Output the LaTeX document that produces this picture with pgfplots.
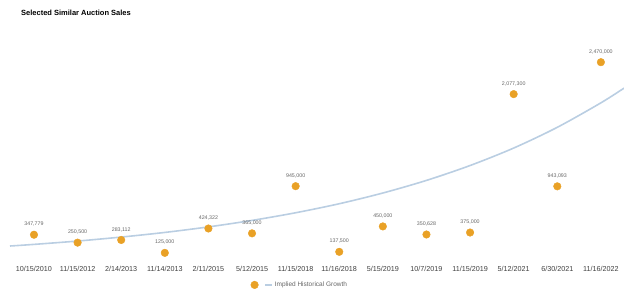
\documentclass[border=0pt]{standalone}
\usepackage{fontspec}
\setmainfont{Liberation Sans}
\usepackage{pgfplots}
\pgfplotsset{compat=1.18}
\definecolor{dot}{HTML}{E9A126}
\definecolor{trend}{HTML}{BACEE2}
\definecolor{lbl}{HTML}{666666}
\definecolor{tickc}{HTML}{404040}
\begin{document}
\begin{tikzpicture}[x=1pt,y=1pt]
\useasboundingbox (0,0) rectangle (624,301);
\node[anchor=west,font=\fontsize{7.5}{9}\selectfont\bfseries,inner sep=0pt] at (21,288) {Selected Similar Auction Sales};
\begin{axis}[at={(10pt,38pt)}, anchor=south west, scale only axis,
  width=614pt, height=233pt,
  xmin=-0.55, xmax=13.53, ymin=0, ymax=2866000,
  axis line style={draw=none}, ytick=\empty, xtick={0,...,13}, major tick length=0pt,
  xticklabels={10/15/2010,11/15/2012,2/14/2013,11/14/2013,2/11/2015,5/12/2015,11/15/2018,11/16/2018,5/15/2019,10/7/2019,11/15/2019,5/12/2021,6/30/2021,11/16/2022},
  xticklabel style={font=\fontsize{7.2}{8}\selectfont, text=tickc, inner sep=0pt, yshift=-3pt},
  clip=false,
  reverse legend,
  legend columns=-1,
  legend style={at={(0.472,-0.094)}, anchor=center, draw=none, fill=none,
    font=\fontsize{6.5}{8}\selectfont, text=lbl,
    /tikz/every even column/.append style={column sep=2pt}},
]
\addplot[trend, line width=1.6pt, smooth, no markers,
  legend image code/.code={\draw[trend, line width=1.2pt] (0pt,0pt) -- (7pt,0pt);}]
  coordinates {(-0.55,209000) (0,229000) (1,270000) (2,319000) (3,376000) (4,444000)
  (5,524000) (6,618000) (7,729000) (8,861000) (9,1016000) (10,1199000) (11,1414000)
  (12,1669000) (13,1970000) (13.53,2151000)};
\addlegendentry{Implied Historical Growth}
\addplot[only marks, mark=*, mark size=3.8pt, color=dot,
  nodes near coords, point meta=explicit symbolic,
  nodes near coords style={font=\fontsize{5.3}{6}\selectfont, text=lbl, inner sep=0pt, yshift=8pt},
  legend image code/.code={\fill[dot] (0pt,0pt) circle (3.8pt);}]
  coordinates {
  (0,347779) [347,779]
  (1,250500) [250,500]
  (2,283112) [283,112]
  (3,125000) [125,000]
  (4,424322) [424,322]
  (5,365000) [365,000]
  (6,945000) [945,000]
  (7,137500) [137,500]
  (8,450000) [450,000]
  (9,350628) [350,628]
  (10,375000) [375,000]
  (11,2077300) [2,077,300]
  (12,943093) [943,093]
  (13,2470000) [2,470,000]
  };
\addlegendentry{}
\end{axis}
\end{tikzpicture}
\end{document}
